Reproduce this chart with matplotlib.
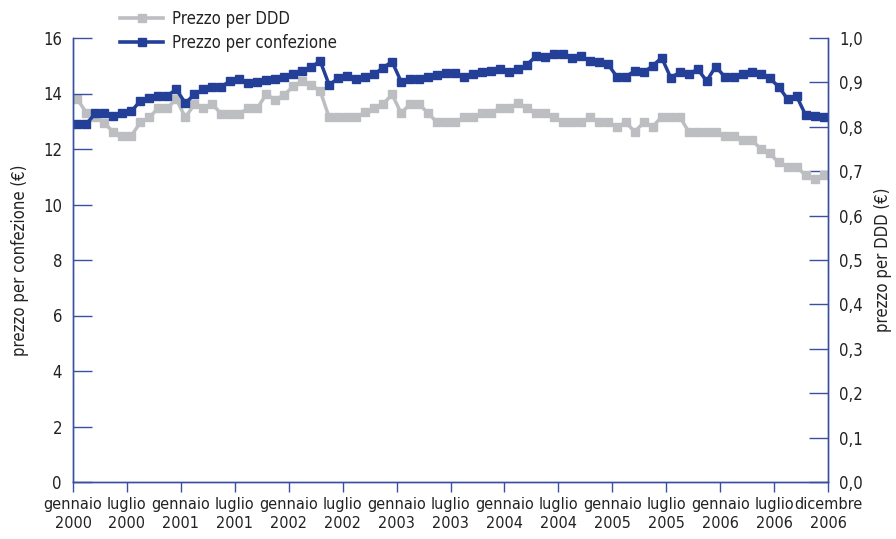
import matplotlib
matplotlib.use("Agg")
import matplotlib.pyplot as plt
from matplotlib.lines import Line2D
import matplotlib.font_manager as fm
from matplotlib.font_manager import FontProperties

# ---------------- data ----------------
months = list(range(84))  # gennaio 2000 ... dicembre 2006 (monthly)

prezzo_confezione = [
    12.89, 12.91, 13.29, 13.29, 13.20, 13.30, 13.36, 13.74, 13.83, 13.92, 13.92, 14.15,
    13.65, 13.97, 14.15, 14.25, 14.25, 14.45, 14.53, 14.37, 14.43, 14.49, 14.52, 14.61,
    14.70, 14.81, 14.95, 15.17, 14.31, 14.55, 14.63, 14.51, 14.58, 14.69, 14.93, 15.15,
    14.43, 14.51, 14.52, 14.61, 14.67, 14.73, 14.73, 14.61, 14.69, 14.79, 14.82, 14.88,
    14.76, 14.88, 15.03, 15.35, 15.33, 15.41, 15.41, 15.27, 15.35, 15.17, 15.12, 15.06,
    14.61, 14.61, 14.81, 14.76, 15.00, 15.29, 14.57, 14.76, 14.69, 14.88, 14.45, 14.97,
    14.61, 14.61, 14.69, 14.76, 14.69, 14.55, 14.25, 13.80, 13.91, 13.23, 13.19, 13.17,
]

prezzo_ddd = [
    0.862, 0.831, 0.823, 0.808, 0.788, 0.780, 0.780, 0.810, 0.821, 0.843, 0.843, 0.862,
    0.821, 0.851, 0.842, 0.851, 0.829, 0.829, 0.829, 0.842, 0.842, 0.873, 0.861, 0.872,
    0.891, 0.903, 0.894, 0.881, 0.821, 0.821, 0.821, 0.821, 0.833, 0.843, 0.851, 0.873,
    0.831, 0.851, 0.851, 0.831, 0.810, 0.810, 0.810, 0.821, 0.821, 0.831, 0.831, 0.842,
    0.842, 0.853, 0.842, 0.831, 0.831, 0.821, 0.810, 0.810, 0.810, 0.821, 0.810, 0.810,
    0.800, 0.810, 0.789, 0.810, 0.800, 0.823, 0.823, 0.823, 0.789, 0.789, 0.789, 0.789,
    0.780, 0.780, 0.770, 0.770, 0.751, 0.740, 0.720, 0.710, 0.710, 0.691, 0.683, 0.691,
]

tick_positions = [0, 6, 12, 18, 24, 30, 36, 42, 48, 54, 60, 66, 72, 78, 84]
tick_labels = [
    "gennaio\n2000", "luglio\n2000", "gennaio\n2001", "luglio\n2001",
    "gennaio\n2002", "luglio\n2002", "gennaio\n2003", "luglio\n2003",
    "gennaio\n2004", "luglio\n2004", "gennaio\n2005", "luglio\n2005",
    "gennaio\n2006", "luglio\n2006", "dicembre\n2006",
]
left_ticks = [0, 2, 4, 6, 8, 10, 12, 14, 16]
right_ticks = [0.0, 0.1, 0.2, 0.3, 0.4, 0.5, 0.6, 0.7, 0.8, 0.9, 1.0]

# ---------------- font: look for a narrow face ----------------
narrow_file = None
for f in fm.fontManager.ttflist:
    low = f.fname.lower()
    if ("narrow" in low or "condensed" in low) and "bold" not in low and "italic" not in low \
            and "oblique" not in low and "light" not in low and "mono" not in low \
            and "serif" not in low.replace("sans", ""):
        if f.style == "normal" and f.weight in (400, "normal", "regular"):
            narrow_file = f.fname
            break

if narrow_file:
    FP = FontProperties(fname=narrow_file, size=12)
    FPX = FontProperties(fname=narrow_file, size=11.6)
else:
    FP = FontProperties(family=["Roboto", "DejaVu Sans"], size=11)
    FPX = FontProperties(family=["Roboto", "DejaVu Sans"], size=10.5)

BLUE = "#243f98"
GRAY = "#bdbec1"
AXIS = "#3a4fa0"
TXT = "#222222"

fig = plt.figure(figsize=(8.96, 5.39), dpi=100)
ax = fig.add_axes([73 / 896, 57 / 539, 755 / 896, 444 / 539])
ax2 = ax.twinx()
ax.set_zorder(ax2.get_zorder() + 1)
ax.patch.set_visible(False)

x = [m + 0.5 for m in months]
ax2.plot(x, prezzo_ddd, color=GRAY, lw=2.5, marker="s", ms=5.5, mec=GRAY, mfc=GRAY,
         solid_joinstyle="miter")
ax.plot(x, prezzo_confezione, color=BLUE, lw=2.5, marker="s", ms=5.5, mec=BLUE, mfc=BLUE,
        solid_joinstyle="miter")

ax.set_xlim(0, 84)
ax.set_ylim(0, 16)
ax2.set_ylim(0, 1.0)

ax.set_xticks(tick_positions)
ax.set_xticklabels(tick_labels, color=TXT, linespacing=1.35, fontproperties=FPX)
ax.set_yticks(left_ticks)
ax.set_yticklabels([str(v) for v in left_ticks], color=TXT, fontproperties=FP)
ax2.set_yticks(right_ticks)
ax2.set_yticklabels([f"{v:.1f}".replace(".", ",") for v in right_ticks], color=TXT,
                    fontproperties=FP)

for a in (ax, ax2):
    for s in a.spines.values():
        s.set_color(AXIS)
        s.set_linewidth(1.0)
    a.spines["top"].set_visible(False)

ax.tick_params(axis="x", direction="out", length=7, width=1, color=AXIS, pad=4)
ax.tick_params(axis="y", direction="in", length=14, width=1, color=AXIS, pad=8)
ax2.tick_params(axis="y", direction="in", length=14, width=1, color=AXIS, pad=8)

ax.set_ylabel("prezzo per confezione (€)", color=TXT, fontproperties=FP, labelpad=10)
ax2.set_ylabel("prezzo per DDD (€)", color=TXT, fontproperties=FP, rotation=90, labelpad=8)

handles = [
    Line2D([], [], color=GRAY, lw=2.6, marker="s", ms=5.5, mec=GRAY, mfc=GRAY),
    Line2D([], [], color=BLUE, lw=2.6, marker="s", ms=5.5, mec=BLUE, mfc=BLUE),
]
leg = fig.legend(handles, ["Prezzo per DDD", "Prezzo per confezione"],
                 loc="upper left", bbox_to_anchor=(110 / 896, 1.0), frameon=False,
                 handlelength=2.6, handletextpad=0.5, labelspacing=0.35,
                 prop=FP, borderaxespad=0.2)
for t in leg.get_texts():
    t.set_color(TXT)

fig.savefig("out.png", dpi=100)
